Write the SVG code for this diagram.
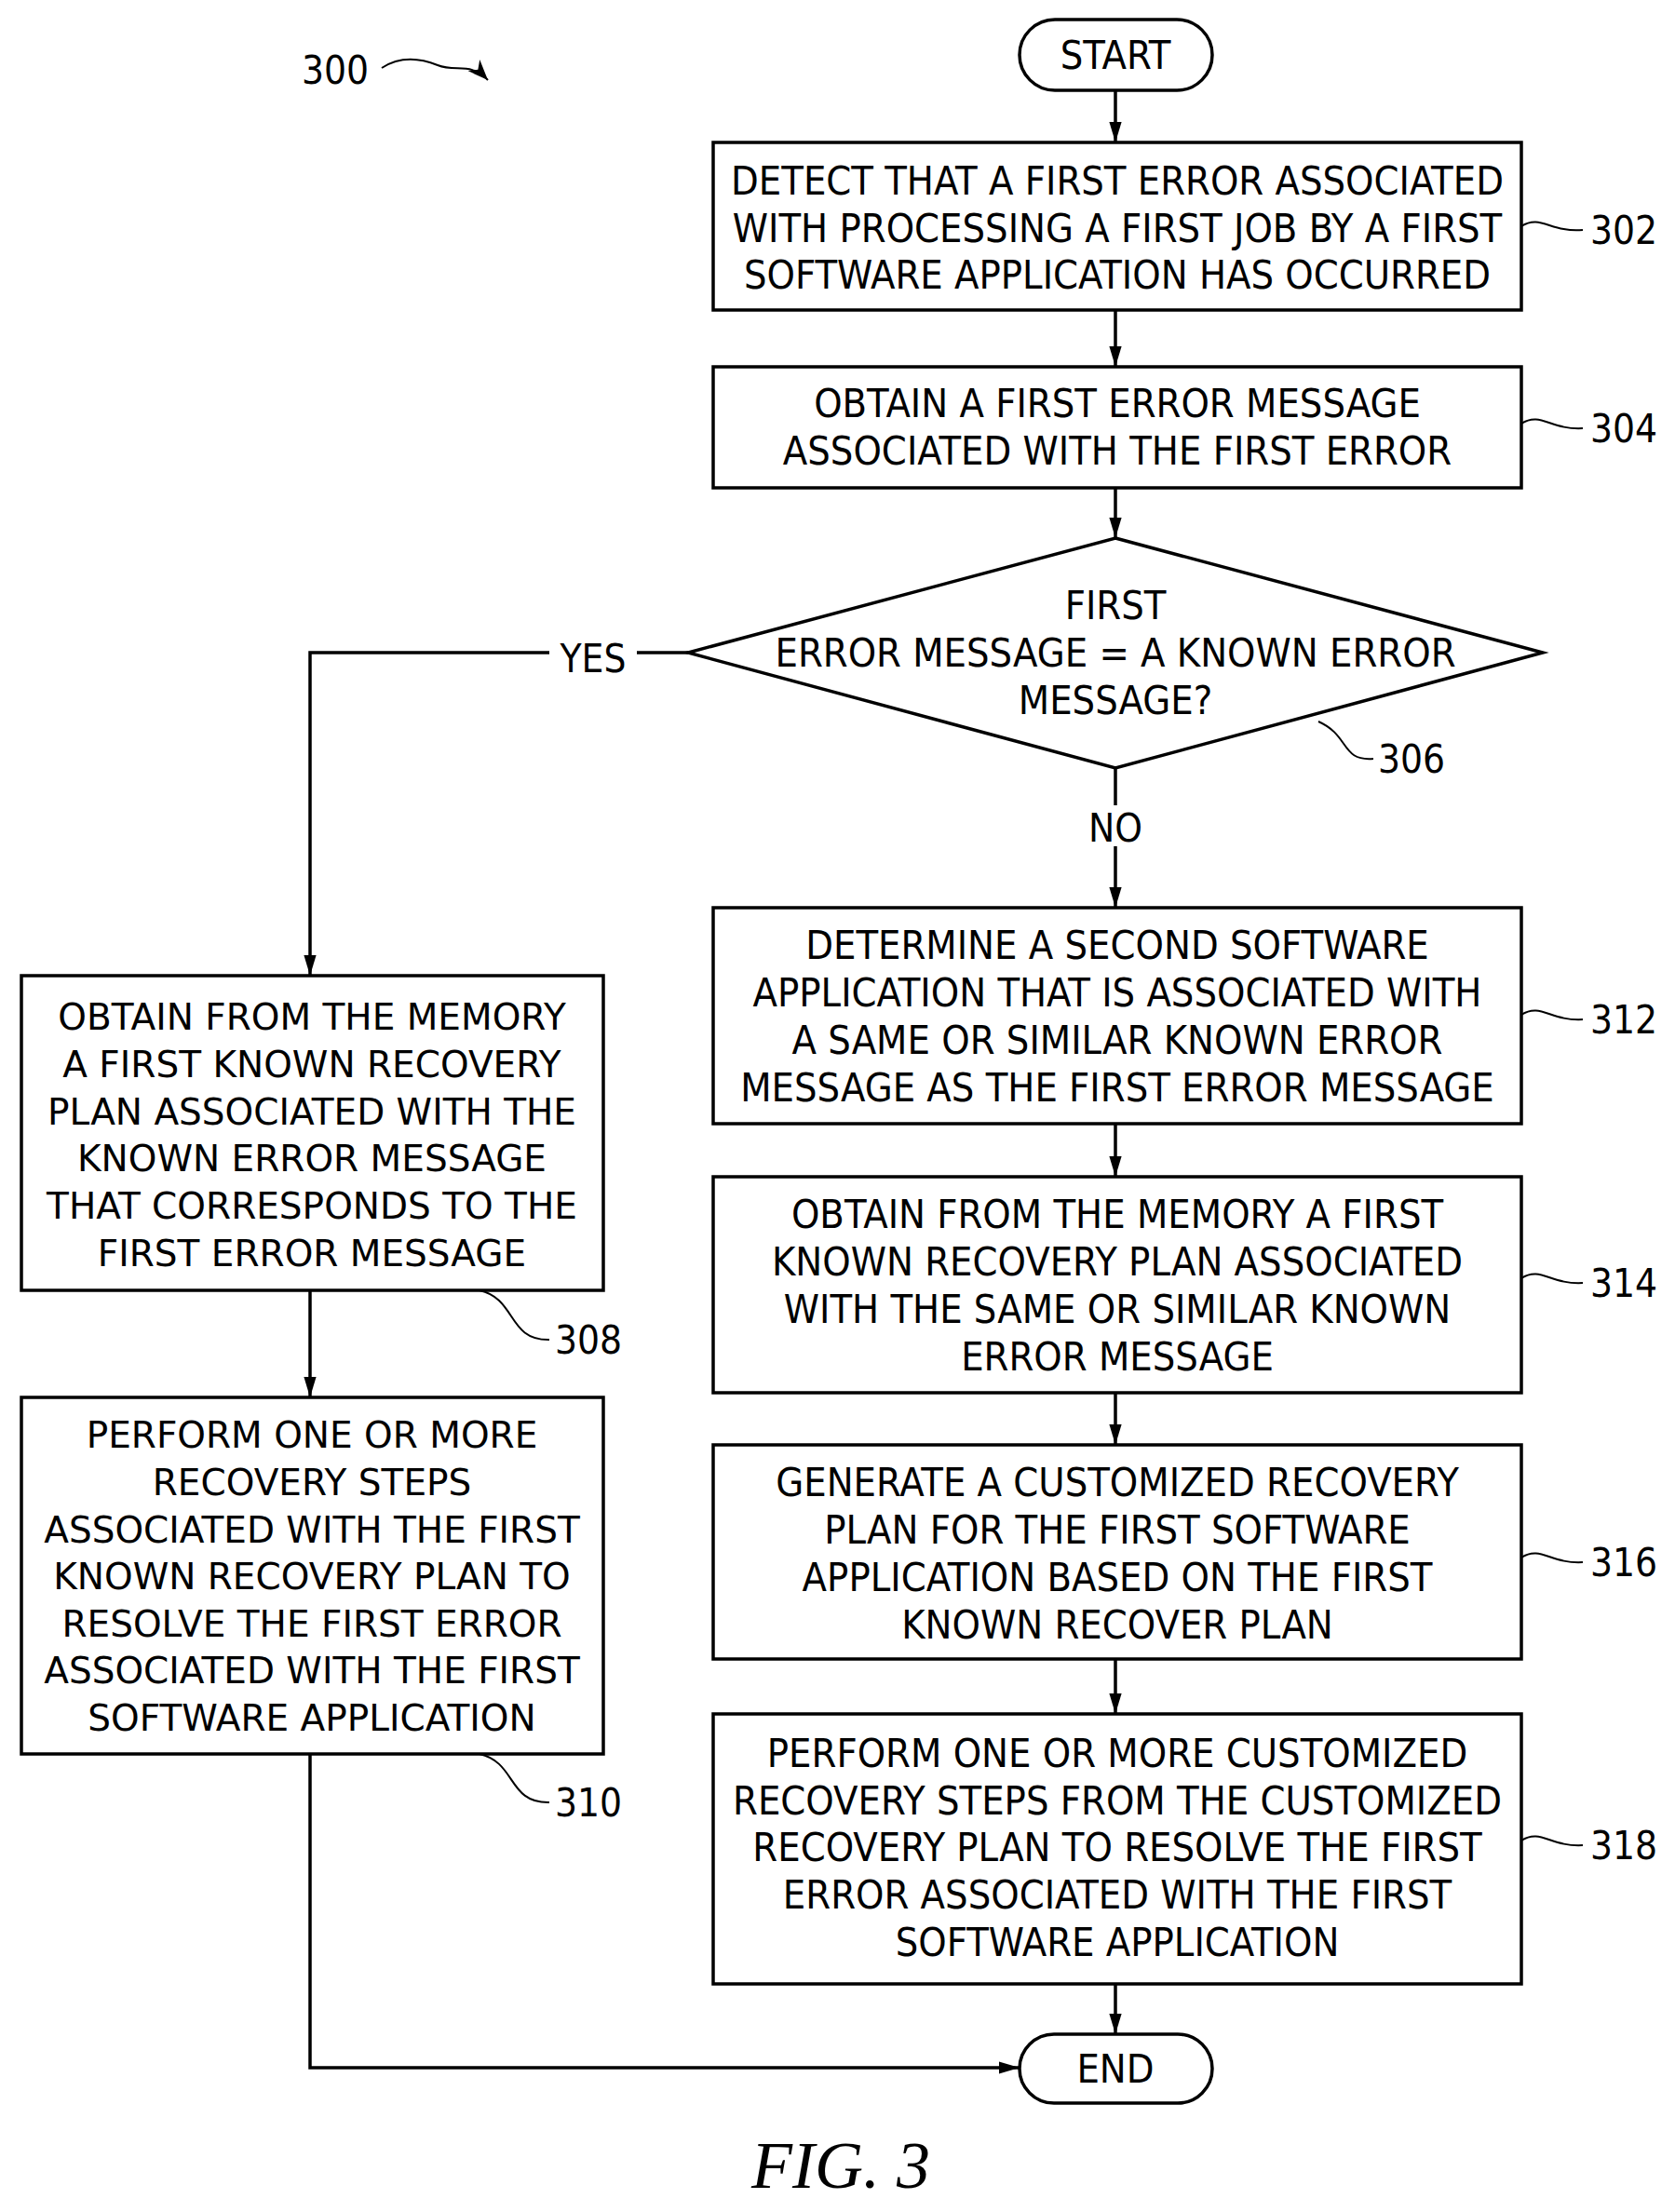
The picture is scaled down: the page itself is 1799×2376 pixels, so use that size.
<svg xmlns="http://www.w3.org/2000/svg" width="1799" height="2376" viewBox="0 0 1799 2376">
<style>
.b{fill:#fff;stroke:#000;stroke-width:3.5}
.t{font-family:"DejaVu Sans Condensed","DejaVu Sans",sans-serif;font-size:43px;text-anchor:middle;fill:#000}
.w{font-family:"DejaVu Sans",sans-serif;font-size:39px;text-anchor:middle;fill:#000}
.n{font-family:"DejaVu Sans Condensed","DejaVu Sans",sans-serif;font-size:42px;fill:#000}
.c{fill:none;stroke:#000;stroke-width:3.5}
.l{fill:none;stroke:#000;stroke-width:2}
</style>
<defs><marker id="a" viewBox="0 0 10 10" refX="10" refY="5" markerWidth="22" markerHeight="22" orient="auto" markerUnits="userSpaceOnUse"><path d="M0,1 L10,5 L0,9 L3,5 z" fill="#000"/></marker>
<marker id="ah" viewBox="0 0 10 10" refX="10" refY="5" markerWidth="22" markerHeight="22" orient="auto" markerUnits="userSpaceOnUse"><path d="M0,2 L10,5 L0,8 z" fill="#000"/></marker></defs>
<g id="connectors">
<line class="c" x1="1198" y1="97" x2="1198" y2="153" marker-end="url(#ah)"/>
<line class="c" x1="1198" y1="333" x2="1198" y2="394" marker-end="url(#ah)"/>
<line class="c" x1="1198" y1="524" x2="1198" y2="578" marker-end="url(#ah)"/>
<line class="c" x1="1198" y1="825" x2="1198" y2="975" marker-end="url(#ah)"/>
<line class="c" x1="1198" y1="1207" x2="1198" y2="1264" marker-end="url(#ah)"/>
<line class="c" x1="1198" y1="1496" x2="1198" y2="1552" marker-end="url(#ah)"/>
<line class="c" x1="1198" y1="1782" x2="1198" y2="1841" marker-end="url(#ah)"/>
<line class="c" x1="1198" y1="2131" x2="1198" y2="2185" marker-end="url(#ah)"/>
<polyline class="c" points="739,701 333,701 333,1048" marker-end="url(#ah)"/>
<line class="c" x1="333" y1="1386" x2="333" y2="1501" marker-end="url(#ah)"/>
<polyline class="c" points="333,1884 333,2221 1095,2221" marker-end="url(#ah)"/>
<rect x="590" y="680" width="94" height="44" fill="#fff"/>
<text class="n" x="637" y="722" text-anchor="middle">YES</text>
<rect x="1160" y="865" width="76" height="44" fill="#fff"/>
<text class="n" x="1198" y="904" text-anchor="middle">NO</text>
</g>
<g id="label300"><text class="n" x="360" y="90" text-anchor="middle">300</text>
<path class="l" d="M410,73 C430,60 450,62 470,70 C490,78 505,66 524,86" marker-end="url(#a)"/></g>
<g id="start"><rect class="b" x="1095" y="21" width="207" height="76" rx="38"/><text class="t" x="1198" y="74">START</text></g>
<g id="n302"><rect class="b" x="766" y="153" width="868" height="180"/>
<text class="t" x="1200" y="209">DETECT THAT A FIRST ERROR ASSOCIATED</text>
<text class="t" x="1200" y="260">WITH PROCESSING A FIRST JOB BY A FIRST</text>
<text class="t" x="1200" y="310">SOFTWARE APPLICATION HAS OCCURRED</text>
<path class="l" d="M1634,243 C1655,230 1665,250 1700,247"/><text class="n" x="1708" y="262">302</text></g>
<g id="n304"><rect class="b" x="766" y="394" width="868" height="130"/>
<text class="t" x="1200" y="448">OBTAIN A FIRST ERROR MESSAGE</text>
<text class="t" x="1200" y="499">ASSOCIATED WITH THE FIRST ERROR</text>
<path class="l" d="M1634,455 C1655,442 1665,462 1700,460"/><text class="n" x="1708" y="475">304</text></g>
<g id="n306"><polygon class="b" points="1198,578 1657,701 1198,825 739,701"/>
<text class="t" x="1198" y="665">FIRST</text>
<text class="t" x="1198" y="716">ERROR MESSAGE = A KNOWN ERROR</text>
<text class="t" x="1198" y="767">MESSAGE?</text>
<path class="l" d="M1416,775 C1450,790 1440,818 1475,815"/><text class="n" x="1480" y="830">306</text></g>
<g id="n308"><rect class="b" x="23" y="1048" width="625" height="338"/>
<text class="w" x="335" y="1106">OBTAIN FROM THE MEMORY</text>
<text class="w" x="335" y="1157">A FIRST KNOWN  RECOVERY</text>
<text class="w" x="335" y="1208">PLAN ASSOCIATED WITH THE</text>
<text class="w" x="335" y="1258">KNOWN ERROR MESSAGE</text>
<text class="w" x="335" y="1309">THAT CORRESPONDS TO THE</text>
<text class="w" x="335" y="1360">FIRST ERROR MESSAGE</text>
<path class="l" d="M515,1386 C555,1395 545,1440 590,1439"/><text class="n" x="596" y="1454">308</text></g>
<g id="n310"><rect class="b" x="23" y="1501" width="625" height="383"/>
<text class="w" x="335" y="1555">PERFORM ONE OR MORE</text>
<text class="w" x="335" y="1606">RECOVERY STEPS</text>
<text class="w" x="335" y="1657">ASSOCIATED WITH THE FIRST</text>
<text class="w" x="335" y="1707">KNOWN RECOVERY PLAN TO</text>
<text class="w" x="335" y="1758">RESOLVE THE FIRST ERROR</text>
<text class="w" x="335" y="1808">ASSOCIATED WITH THE FIRST</text>
<text class="w" x="335" y="1859">SOFTWARE APPLICATION</text>
<path class="l" d="M515,1884 C555,1893 545,1937 590,1936"/><text class="n" x="596" y="1951">310</text></g>
<g id="n312"><rect class="b" x="766" y="975" width="868" height="232"/>
<text class="t" x="1200" y="1030">DETERMINE A SECOND SOFTWARE</text>
<text class="t" x="1200" y="1081">APPLICATION THAT IS ASSOCIATED WITH</text>
<text class="t" x="1200" y="1132">A SAME OR SIMILAR KNOWN ERROR</text>
<text class="t" x="1200" y="1183">MESSAGE AS THE FIRST ERROR MESSAGE</text>
<path class="l" d="M1634,1090 C1655,1077 1665,1097 1700,1095"/><text class="n" x="1708" y="1110">312</text></g>
<g id="n314"><rect class="b" x="766" y="1264" width="868" height="232"/>
<text class="t" x="1200" y="1319">OBTAIN FROM THE MEMORY A FIRST</text>
<text class="t" x="1200" y="1370">KNOWN RECOVERY PLAN ASSOCIATED</text>
<text class="t" x="1200" y="1421">WITH THE SAME OR SIMILAR KNOWN</text>
<text class="t" x="1200" y="1472">ERROR MESSAGE</text>
<path class="l" d="M1634,1373 C1655,1360 1665,1380 1700,1378"/><text class="n" x="1708" y="1393">314</text></g>
<g id="n316"><rect class="b" x="766" y="1552" width="868" height="230"/>
<text class="t" x="1200" y="1607">GENERATE A CUSTOMIZED RECOVERY</text>
<text class="t" x="1200" y="1658">PLAN FOR THE FIRST SOFTWARE</text>
<text class="t" x="1200" y="1709">APPLICATION BASED ON THE FIRST</text>
<text class="t" x="1200" y="1760">KNOWN RECOVER PLAN</text>
<path class="l" d="M1634,1673 C1655,1660 1665,1680 1700,1678"/><text class="n" x="1708" y="1693">316</text></g>
<g id="n318"><rect class="b" x="766" y="1841" width="868" height="290"/>
<text class="t" x="1200" y="1898">PERFORM ONE OR MORE CUSTOMIZED</text>
<text class="t" x="1200" y="1949">RECOVERY STEPS FROM THE CUSTOMIZED</text>
<text class="t" x="1200" y="1999">RECOVERY PLAN TO RESOLVE THE FIRST</text>
<text class="t" x="1200" y="2050">ERROR ASSOCIATED WITH THE FIRST</text>
<text class="t" x="1200" y="2101">SOFTWARE APPLICATION</text>
<path class="l" d="M1634,1977 C1655,1964 1665,1984 1700,1982"/><text class="n" x="1708" y="1997">318</text></g>
<g id="end"><rect class="b" x="1095" y="2185" width="207" height="74" rx="37"/><text class="t" x="1198" y="2237">END</text></g>
<text x="903" y="2350" font-family="Liberation Serif,serif" font-style="italic" font-size="72" text-anchor="middle">FIG. 3</text>
</svg>
